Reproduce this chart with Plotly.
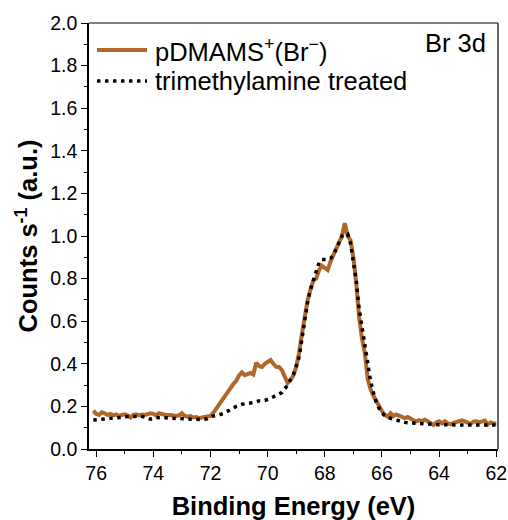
import plotly.graph_objects as go

# pDMAMS+(Br-) spectrum
be_a = [76.1, 76.0, 75.9, 75.8, 75.7, 75.6, 75.5, 75.4, 75.3, 75.2, 75.1, 75.0, 74.9, 74.8, 74.7,
        74.6, 74.5, 74.4, 74.3, 74.2, 74.1, 74.0, 73.9, 73.8, 73.7, 73.6, 73.5, 73.4, 73.3, 73.2,
        73.1, 73.0, 72.9, 72.8, 72.7, 72.6, 72.5, 72.4, 72.3, 72.2, 72.1, 72.0, 71.9, 71.8, 71.7,
        71.6, 71.5, 71.4, 71.3, 71.2, 71.1, 71.0, 70.9, 70.8, 70.7, 70.6, 70.5, 70.4, 70.3, 70.2,
        70.1, 70.0, 69.9, 69.8, 69.7, 69.6, 69.5, 69.4, 69.3, 69.2, 69.1, 69.0, 68.9, 68.8, 68.7,
        68.6, 68.5, 68.4, 68.3, 68.2, 68.1, 68.0, 67.9, 67.8, 67.7, 67.6, 67.5, 67.4, 67.3, 67.2,
        67.1, 67.0, 66.9, 66.8, 66.7, 66.6, 66.5, 66.4, 66.3, 66.2, 66.1, 66.0, 65.9, 65.8, 65.7,
        65.6, 65.5, 65.4, 65.3, 65.2, 65.1, 65.0, 64.9, 64.8, 64.7, 64.6, 64.5, 64.4, 64.3, 64.2,
        64.1, 64.0, 63.9, 63.8, 63.7, 63.6, 63.5, 63.4, 63.3, 63.2, 63.1, 63.0, 62.9, 62.8, 62.7,
        62.6, 62.5, 62.4, 62.3, 62.2, 62.1, 62.0]
cps_a = [0.18, 0.165, 0.16, 0.172, 0.168, 0.16, 0.165, 0.158, 0.162, 0.155, 0.16, 0.163, 0.158, 0.148, 0.16,
         0.163, 0.158, 0.162, 0.16, 0.165, 0.168, 0.165, 0.158, 0.168, 0.165, 0.16, 0.158, 0.16, 0.157, 0.155,
         0.158, 0.168, 0.155, 0.152, 0.155, 0.148, 0.15, 0.145, 0.148, 0.15, 0.152, 0.155, 0.17, 0.19, 0.21,
         0.225, 0.245, 0.27, 0.29, 0.305, 0.32, 0.345, 0.36, 0.347, 0.352, 0.357, 0.35, 0.405, 0.39, 0.385,
         0.4, 0.41, 0.418, 0.4, 0.386, 0.385, 0.37, 0.34, 0.31, 0.325, 0.345, 0.385, 0.45, 0.54, 0.62,
         0.7, 0.75, 0.79, 0.8, 0.84, 0.86, 0.85, 0.84, 0.88, 0.91, 0.94, 0.96, 1.0, 1.06, 1.0,
         0.98, 0.9, 0.78, 0.62, 0.52, 0.45, 0.33, 0.28, 0.25, 0.225, 0.2, 0.178, 0.16, 0.152, 0.168,
         0.155, 0.162, 0.155, 0.15, 0.145, 0.15, 0.14, 0.135, 0.13, 0.135, 0.13, 0.138, 0.13, 0.12, 0.113,
         0.125, 0.13, 0.12, 0.13, 0.12, 0.117, 0.122, 0.125, 0.128, 0.135, 0.13, 0.125, 0.118, 0.128, 0.13,
         0.125, 0.13, 0.133, 0.115, 0.125, 0.12, 0.12]

# trimethylamine treated spectrum
be_b = [76.1, 75.9, 75.7, 75.5, 75.3, 75.1, 74.9, 74.7, 74.5, 74.3, 74.1, 73.9, 73.7, 73.5, 73.3,
        73.1, 72.9, 72.7, 72.5, 72.3, 72.1, 71.9, 71.7, 71.5, 71.3, 71.1, 70.9, 70.7, 70.5, 70.3,
        70.1, 69.9, 69.7, 69.5, 69.3, 69.1, 68.9, 68.8, 68.7, 68.6, 68.5, 68.4, 68.3, 68.2, 68.1,
        68.0, 67.9, 67.8, 67.7, 67.6, 67.5, 67.4, 67.3, 67.2, 67.1, 67.0, 66.9, 66.8, 66.7, 66.6,
        66.5, 66.4, 66.3, 66.2, 66.1, 66.0, 65.8, 65.6, 65.4, 65.2, 65.0, 64.8, 64.6, 64.4, 64.2,
        64.0, 63.8, 63.6, 63.4, 63.2, 63.0, 62.8, 62.6, 62.4, 62.2, 62.0]
cps_b = [0.136, 0.14, 0.142, 0.144, 0.146, 0.15, 0.152, 0.152, 0.155, 0.15, 0.14, 0.148, 0.147, 0.145, 0.143,
         0.142, 0.14, 0.138, 0.137, 0.138, 0.142, 0.155, 0.16, 0.17, 0.185, 0.2, 0.21, 0.212, 0.218, 0.226,
         0.228, 0.238, 0.25, 0.265, 0.3, 0.35, 0.43, 0.52, 0.6, 0.69, 0.75, 0.79, 0.83, 0.875, 0.89,
         0.89, 0.89, 0.895, 0.91, 0.94, 0.97, 1.0, 1.01, 1.01, 0.965, 0.88, 0.79, 0.66, 0.575, 0.48,
         0.4, 0.32, 0.265, 0.22, 0.19, 0.168, 0.148, 0.139, 0.13, 0.125, 0.122, 0.12, 0.118, 0.116, 0.113,
         0.114, 0.114, 0.113, 0.112, 0.111, 0.11, 0.112, 0.113, 0.113, 0.113, 0.113]

series_names = ["pDMAMS<sup>+</sup>(Br<sup>\u2212</sup>)", "trimethylamine treated"]

x_ticks = [76, 74, 72, 70, 68, 66, 64, 62]
y_ticks = [0.0, 0.2, 0.4, 0.6, 0.8, 1.0, 1.2, 1.4, 1.6, 1.8, 2.0]

FONT = "Liberation Sans, Arial, sans-serif"
ORANGE = "#B0672A"
DOT = "3.5px,4.5px"

fig = go.Figure()
fig.add_trace(go.Scatter(x=be_a, y=cps_a, mode="lines", name=series_names[0],
                         line=dict(color=ORANGE, width=4), showlegend=False))
fig.add_trace(go.Scatter(x=be_b, y=cps_b, mode="lines", name=series_names[1],
                         line=dict(color="black", width=3.5, dash=DOT), showlegend=False))

# hand-placed legend (sample lines + labels) in paper coordinates
leg_rows = [0.9366, 0.8638]
leg_styles = [dict(color=ORANGE, width=4), dict(color="black", width=3.5, dash=DOT)]
shapes = [
    dict(type="line", xref="paper", yref="paper", x0=0, x1=1, y0=1, y1=1,
         line=dict(color="#555555", width=1.5)),
    dict(type="line", xref="paper", yref="paper", x0=1, x1=1, y0=0, y1=1,
         line=dict(color="#333333", width=1.5)),
]
annotations = [dict(text="Br 3d", xref="paper", yref="paper", x=0.975, y=0.99,
                    xanchor="right", yanchor="top", showarrow=False,
                    font=dict(size=25.5, family=FONT))]
for name, yy, st in zip(series_names, leg_rows, leg_styles):
    shapes.append(dict(type="line", xref="paper", yref="paper", x0=0.0196, x1=0.1419,
                       y0=yy, y1=yy, line=st))
    annotations.append(dict(text=name, xref="paper", yref="paper", x=0.1566, y=yy,
                            xanchor="left", yanchor="middle", showarrow=False,
                            font=dict(size=25.5, family=FONT)))

fig.update_layout(
    width=508, height=520,
    margin=dict(l=89, r=10, t=23, b=71, autoexpand=False),
    paper_bgcolor="white", plot_bgcolor="white",
    font=dict(family=FONT, color="black", size=19.5),
    showlegend=False,
    annotations=annotations,
    shapes=shapes,
)
fig.update_xaxes(
    range=[76.25, 61.94], tickvals=x_ticks, ticktext=[str(v) for v in x_ticks],
    ticks="outside", ticklen=6, tickwidth=1.3, tickcolor="black",
    minor=dict(dtick=1, ticks="outside", ticklen=3, tickwidth=1.3, tickcolor="black"),
    showline=True, linecolor="black", linewidth=1.5, mirror=False,
    showgrid=False, zeroline=False, automargin=False,
    tickfont=dict(size=19.5, family=FONT),
    title=dict(text="<b>Binding Energy (eV)</b>", font=dict(size=25.5, family=FONT)),
)
fig.update_yaxes(
    range=[0, 2.0], tickvals=y_ticks, ticktext=[f"{v:.1f}" for v in y_ticks],
    ticks="outside", ticklen=6, tickwidth=1.3, tickcolor="black",
    minor=dict(dtick=0.1, ticks="outside", ticklen=3, tickwidth=1.3, tickcolor="black"),
    showline=True, linecolor="black", linewidth=1.5, mirror=False,
    showgrid=False, zeroline=False, automargin=False,
    tickfont=dict(size=19.5, family=FONT),
    title=dict(text="<b>Counts s<sup>-1</sup> (a.u.)</b>", font=dict(size=25.5, family=FONT),
               standoff=5),
)

fig.write_html("out.html")
